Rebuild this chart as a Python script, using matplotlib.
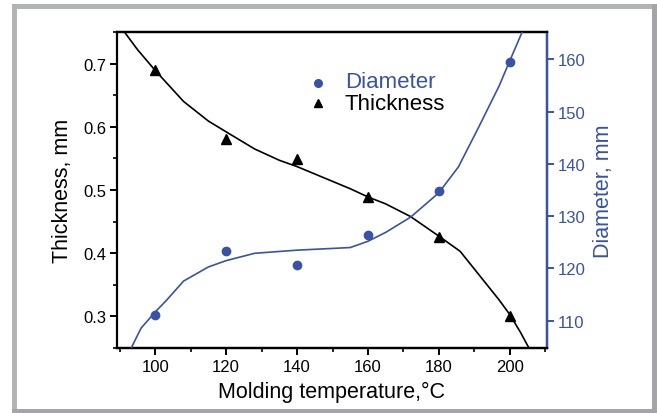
import matplotlib
matplotlib.use('Agg')
import matplotlib.pyplot as plt
from matplotlib.patches import Rectangle
from matplotlib.ticker import MultipleLocator

plt.rcParams['font.family'] = ['Liberation Sans', 'DejaVu Sans']

BLUE = '#3953a4'

# measured points
temps = [100, 120, 140, 160, 180, 200]
thickness = [0.690, 0.580, 0.549, 0.489, 0.425, 0.300]
diameter = [111.1, 123.3, 120.6, 126.4, 134.8, 159.5]

# fitted curves
thick_fit_x = [91.3, 95, 100, 108, 115, 120, 128, 135, 140, 149, 155, 160, 165, 172,
               180, 186, 190, 197, 200, 203, 205.4]
thick_fit_y = [0.750, 0.722, 0.689, 0.640, 0.609, 0.592, 0.565, 0.547, 0.537, 0.516,
               0.502, 0.489, 0.478, 0.458, 0.427, 0.403, 0.375, 0.326, 0.303, 0.275, 0.250]
diam_fit_x = [93.2, 96, 100, 103, 108, 115, 120, 128, 140, 149, 155, 160, 165, 172,
              178, 180, 185.5, 191, 197, 200, 203.5]
diam_fit_y = [104.8, 108.6, 111.7, 113.8, 117.6, 120.3, 121.5, 122.9, 123.5, 123.8,
              124.0, 125.2, 126.9, 129.8, 133.3, 134.5, 139.4, 146.7, 154.9, 159.7, 165.2]

W, H = 657, 414
fig = plt.figure(figsize=(W / 100, H / 100), dpi=100)
fig.patch.set_facecolor('white')

# gray frame round the picture
def frame_rect(x0, y0, x1, y1, color):
    fig.patches.append(Rectangle((x0 / W, 1 - y1 / H), (x1 - x0) / W, (y1 - y0) / H,
                                 transform=fig.transFigure, facecolor=color,
                                 edgecolor='none', zorder=0))

frame_rect(12, 5, 657, 10, '#b2b3b5')
frame_rect(12, 5, 17, 414, '#b2b3b5')
frame_rect(652, 5, 657, 414, '#a4a5a8')
frame_rect(12, 410, 657, 414, '#a4a5a8')

ax = fig.add_axes([117 / W, 1 - 349 / H, 430 / W, 316 / H])
ax2 = ax.twinx()

ax.plot(thick_fit_x, thick_fit_y, color='black', lw=1.2, zorder=3)
ax.plot(temps, thickness, '^', color='black', ms=6.5, zorder=4)
ax2.plot(diam_fit_x, diam_fit_y, color=BLUE, lw=1.2, zorder=3)
ax2.plot(temps, diameter, 'o', color=BLUE, ms=6, zorder=4)

ax.set_xlim(89.2, 210.5)
ax.set_ylim(0.25, 0.75)
ax2.set_ylim(104.8, 165.2)

ax.xaxis.set_major_locator(MultipleLocator(20))
ax.xaxis.set_minor_locator(MultipleLocator(10))
ax.yaxis.set_major_locator(MultipleLocator(0.1))
ax.yaxis.set_minor_locator(MultipleLocator(0.05))
ax2.yaxis.set_major_locator(MultipleLocator(10))

for a in (ax, ax2):
    for s in a.spines.values():
        s.set_linewidth(1.6)
ax2.spines['right'].set_color(BLUE)
ax2.spines['left'].set_visible(False)

ax.tick_params(axis='both', which='major', direction='out', length=5, width=1.4,
               labelsize=12, pad=3)
ax.tick_params(axis='both', which='minor', direction='out', length=3, width=1.2)
ax.tick_params(axis='x', top=False)
ax2.tick_params(axis='y', which='major', direction='out', length=5, width=1.4,
                labelsize=12, colors=BLUE, pad=3)

ax.set_xlabel('Molding temperature,°C', fontsize=15.5, labelpad=5)
ax.set_ylabel('Thickness, mm', fontsize=15.5, labelpad=7)
ax2.set_ylabel('Diameter, mm', fontsize=15.5, color=BLUE, labelpad=5)

# legend drawn as in the original: marker then coloured text
ax.plot([145.9], [0.670], 'o', color=BLUE, ms=5.5, zorder=4)
ax.plot([145.9], [0.637], '^', color='black', ms=6, zorder=4)
ax.text(153.5, 0.672, 'Diameter', color=BLUE, fontsize=16, va='center', ha='left')
ax.text(153.5, 0.637, 'Thickness', color='black', fontsize=16, va='center', ha='left')

fig.savefig('out.png', dpi=100)
